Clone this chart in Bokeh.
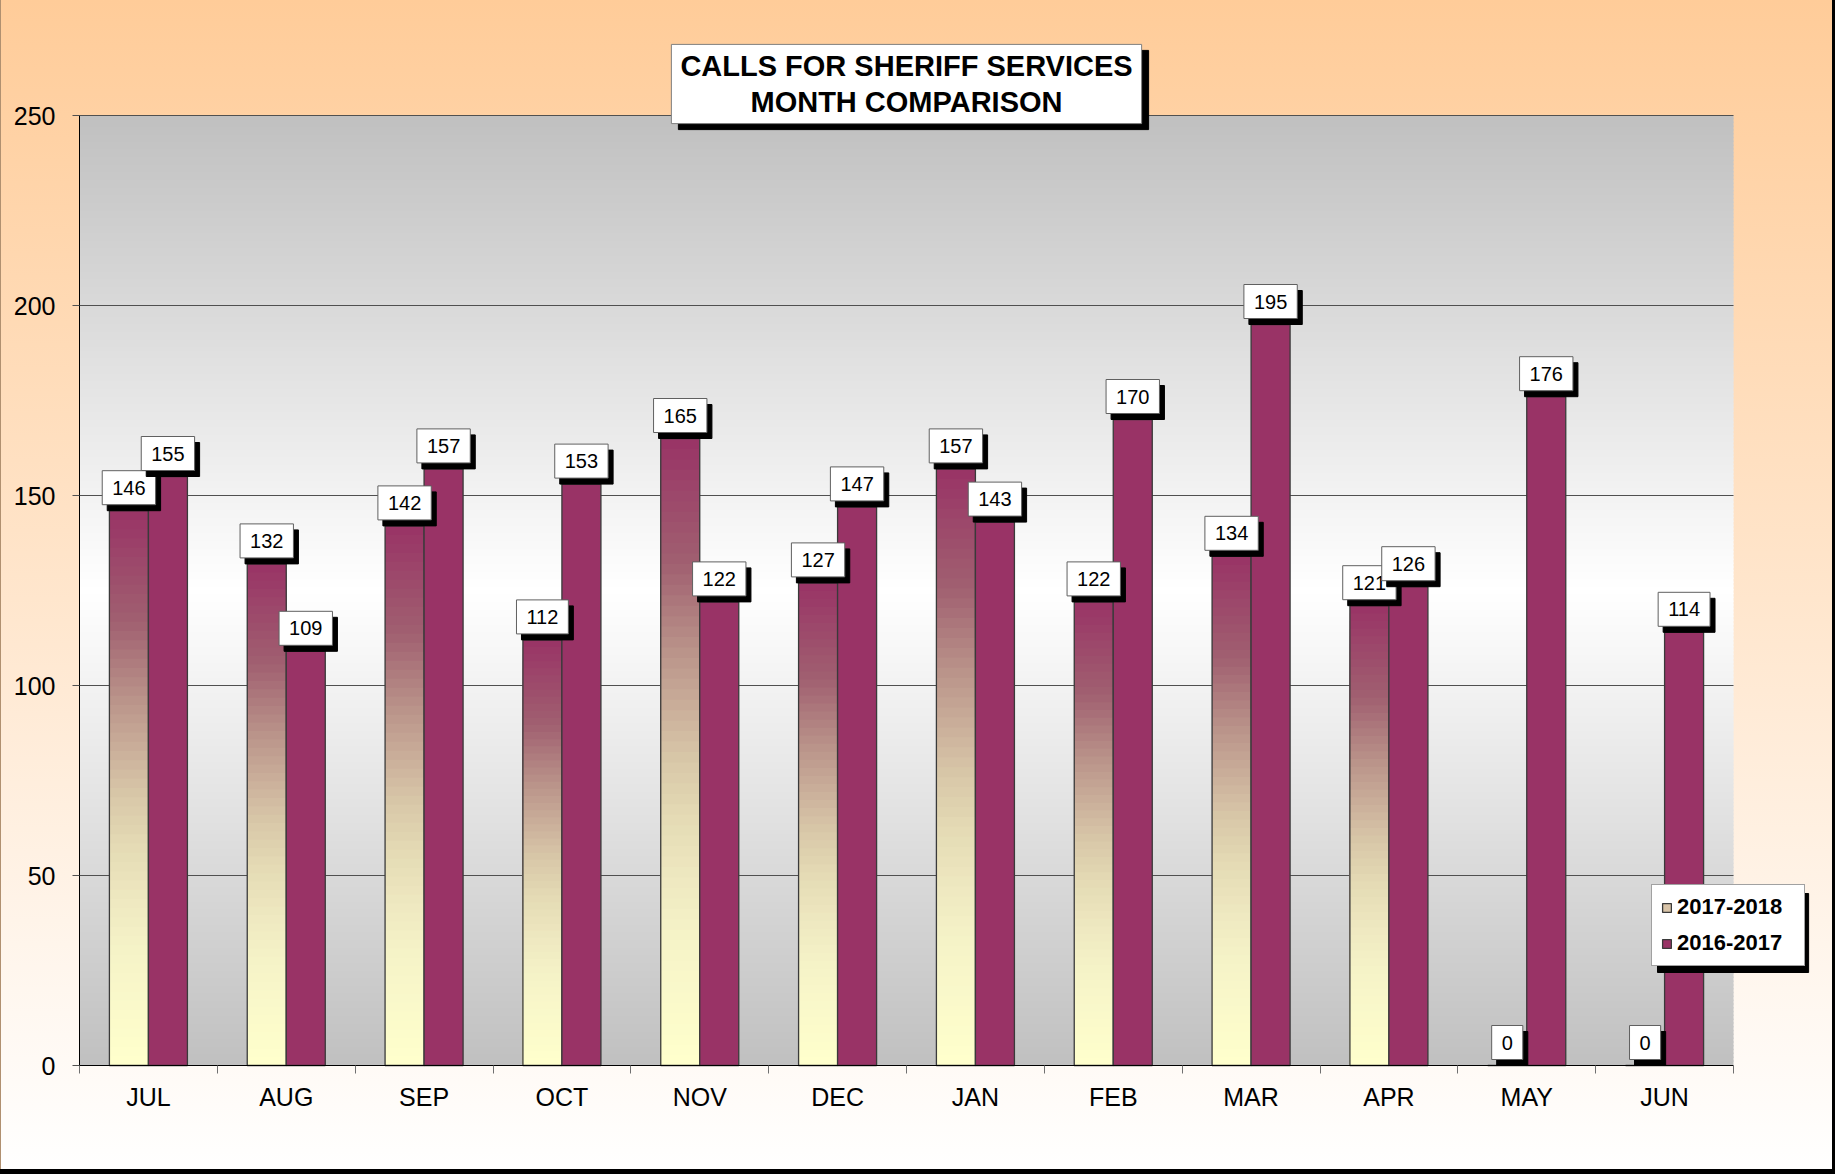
from bokeh.plotting import figure
from bokeh.models import (ColumnDataSource, FixedTicker, Label, Legend, LegendItem,
                          LinearAxis, Range1d)
from bokeh.embed import file_html
from bokeh.resources import INLINE
from bokeh.core.properties import value

# ---------------- data ----------------
months = ["JUL", "AUG", "SEP", "OCT", "NOV", "DEC", "JAN", "FEB", "MAR", "APR", "MAY", "JUN"]
fy_2017_2018 = [146, 132, 142, 112, 165, 127, 157, 122, 134, 121, 0, 0]
fy_2016_2017 = [155, 109, 157, 153, 122, 147, 143, 170, 195, 126, 176, 114]
series_names = ["2017-2018", "2016-2017"]
y_ticks = [0, 50, 100, 150, 200, 250]
title_text = "CALLS FOR SHERIFF SERVICES\nMONTH COMPARISON"

# ---------------- layout / style ----------------
W, H = 1835, 1174
FL, FR, FT, FB = 79, 1733, 115, 1065          # plot-area edges in pixels
FONT = "Liberation Sans"
BAR_W = 0.283
MAROON = "#993366"
EDGE = "#3a3a3a"
Y_MAX = y_ticks[-1]
n = len(months)
X0, X1 = -0.5, n - 0.5
NAN = float("nan")
# gradient stops for 2017-2018 bars (fraction of bar height from bottom)
GRAD = [(0.0, "#FFFFCC"), (0.2, "#F6F4C8"), (0.3, "#EEE8C0"), (0.4, "#E4DAB4"),
        (0.5, "#D6C4A6"), (0.67, "#B89088"), (0.8, "#A06070"), (1.0, "#993366")]


def hex_rgb(h):
    h = h.lstrip("#")
    return tuple(int(h[i:i + 2], 16) for i in (0, 2, 4))


def lerp(c1, c2, t):
    a, b = hex_rgb(c1), hex_rgb(c2)
    return "#%02x%02x%02x" % tuple(int(round(a[k] + (b[k] - a[k]) * t)) for k in range(3))


def grad_color(t):
    for (t0, c0), (t1, c1) in zip(GRAD[:-1], GRAD[1:]):
        if t <= t1:
            return lerp(c0, c1, (t - t0) / (t1 - t0))
    return GRAD[-1][1]


sx = (X1 - X0) / (FR - FL)      # data units per pixel
sy = Y_MAX / (FB - FT)


def px_x(px):
    return X0 + (px - FL) * sx


def px_y(py):
    return (FB - py) * sy


p = figure(width=W, height=H, output_backend="svg", toolbar_location=None,
           x_range=Range1d(px_x(0), px_x(W)), y_range=Range1d(px_y(H), px_y(0)),
           x_axis_location=None, y_axis_location=None,
           min_border=0, border_fill_color=None, background_fill_color=None,
           outline_line_color=None)
p.grid.visible = False
p.styles = {
    "background": "linear-gradient(to bottom, #FFCC99 0%, #FFFFFF 100%)",
    "box-shadow": "inset -3px -5px 0 0 #000000, inset 1px 0 0 0 #b09070",
}

# plot-area background: grey -> white -> grey
nb = 250
bg_bot, bg_top, bg_col = [], [], []
for k in range(nb):
    b = Y_MAX * k / nb
    t = Y_MAX * (k + 1) / nb
    f = abs((b + t) / 2 - Y_MAX / 2) / (Y_MAX / 2)
    bg_bot.append(b)
    bg_top.append(min(Y_MAX, t + 0.4))
    bg_col.append(lerp("#FFFFFF", "#C0C0C0", f))
p.quad(left=X0, right=X1, bottom=bg_bot, top=bg_top, fill_color=bg_col,
       line_color=None, level="image")

# horizontal grid lines inside the plot area
p.segment(x0=X0, x1=X1, y0=y_ticks[1:], y1=y_ticks[1:], line_color="#505050",
          line_width=1, level="underlay")

# 2017-2018 gradient bars (nested strips, tallest first)
N = 60
gl, gr, gt, gc = [], [], [], []
for k in range(N):
    frac_top = (N - k) / N
    col = grad_color((N - k - 0.5) / N)
    for i, v in enumerate(fy_2017_2018):
        gl.append(i - BAR_W)
        gr.append(i)
        gt.append(v * frac_top)
        gc.append(col)
p.quad(left=gl, right=gr, bottom=0, top=gt, fill_color=gc, line_color=None)
x_left = [i - BAR_W for i in range(n)]
x_mid = [i for i in range(n)]
x_right = [i + BAR_W for i in range(n)]
p.quad(left=x_left, right=x_mid, bottom=0, top=fy_2017_2018,
       fill_color=None, line_color=EDGE, line_width=1.3)

# 2016-2017 bars
r2016 = p.quad(left=x_mid, right=x_right, bottom=0, top=fy_2016_2017,
               fill_color=MAROON, line_color=EDGE, line_width=1.3)

# legend-only swatch for the gradient series (no visible mark)
r_leg = p.quad(left=[NAN], right=[NAN], bottom=[NAN], top=[NAN], fill_color="#D9C4A8",
               line_color=EDGE, line_width=1.3)

# data labels
lab_kw = dict(text_align="center", text_baseline="middle",
              text_font=value(FONT), text_font_size="20px",
              padding=dict(left=10, right=10, top=10, bottom=10))
for xs, vals in ((x_left, fy_2017_2018), (x_mid, fy_2016_2017)):
    cx = [xx + BAR_W / 2 for xx in xs]
    src = ColumnDataSource(dict(x=cx, y=vals, t=[str(v) for v in vals]))
    p.text(x="x", y="y", text="t", source=src, x_offset=5, y_offset=-17,
           text_color="black", background_fill_color="black", border_line_color="black",
           **lab_kw)
    p.text(x="x", y="y", text="t", source=src, x_offset=0, y_offset=-23,
           text_color="black", background_fill_color="white",
           border_line_color="#606060", border_line_width=1, **lab_kw)

# axes (placed on the plot-area edges)
xa = LinearAxis(fixed_location=0, bounds=(X0, X1))
xa.ticker = FixedTicker(ticks=list(range(n)), minor_ticks=[i - 0.5 for i in range(n + 1)])
xa.major_label_overrides = {i: m for i, m in enumerate(months)}
xa.major_tick_out = 0
xa.major_tick_in = 0
xa.minor_tick_out = 8
xa.minor_tick_in = 0
xa.minor_tick_line_color = "#707070"
xa.axis_line_color = "black"
xa.major_label_text_font = FONT
xa.major_label_text_font_size = "25px"
xa.major_label_text_color = "black"
xa.major_label_standoff = 9
p.add_layout(xa, "below")

ya = LinearAxis(fixed_location=X0, bounds=(0, Y_MAX))
ya.ticker = FixedTicker(ticks=y_ticks, minor_ticks=[])
ya.major_tick_out = 7
ya.major_tick_in = 0
ya.major_tick_line_color = "#505050"
ya.axis_line_color = "black"
ya.major_label_text_font = FONT
ya.major_label_text_font_size = "25px"
ya.major_label_text_color = "black"
ya.major_label_standoff = 17
p.add_layout(ya, "left")

# title box with shadow
tkw = dict(x=(n - 1) / 2, y=px_y(83.5), text=title_text, text_align="center",
           text_baseline="middle", text_font=FONT, text_font_size="29px",
           text_font_style="bold", text_line_height=1.1,
           padding=dict(left=9, right=9, top=6, bottom=6))
p.add_layout(Label(x_offset=7, y_offset=-6, text_color="black",
                   background_fill_color="black", border_line_color="black", **tkw))
p.add_layout(Label(text_color="black", background_fill_color="white",
                   border_line_color="#808080", border_line_width=1, **tkw))

# legend shadow + legend
p.add_layout(Label(x=px_x(1657), y=px_y(972), text=" ", text_font_size="4px",
                   text_align="left", text_baseline="bottom",
                   background_fill_color="black", border_line_color="black",
                   padding=dict(left=75, right=75, top=37, bottom=37)))
leg = Legend(items=[LegendItem(label=series_names[0], renderers=[r_leg]),
                    LegendItem(label=series_names[1], renderers=[r2016])],
             location=(1651, H - 966), orientation="vertical",
             label_text_font=FONT, label_text_font_style="bold",
             label_text_font_size="22px", label_text_color="black",
             glyph_width=11, glyph_height=11, label_height=20, label_width=118,
             spacing=10, padding=9, label_standoff=5, margin=0,
             border_line_color="#444444", border_line_width=1,
             background_fill_color="white", background_fill_alpha=1)
p.add_layout(leg)

open("out.html", "w").write(file_html(p, INLINE))
